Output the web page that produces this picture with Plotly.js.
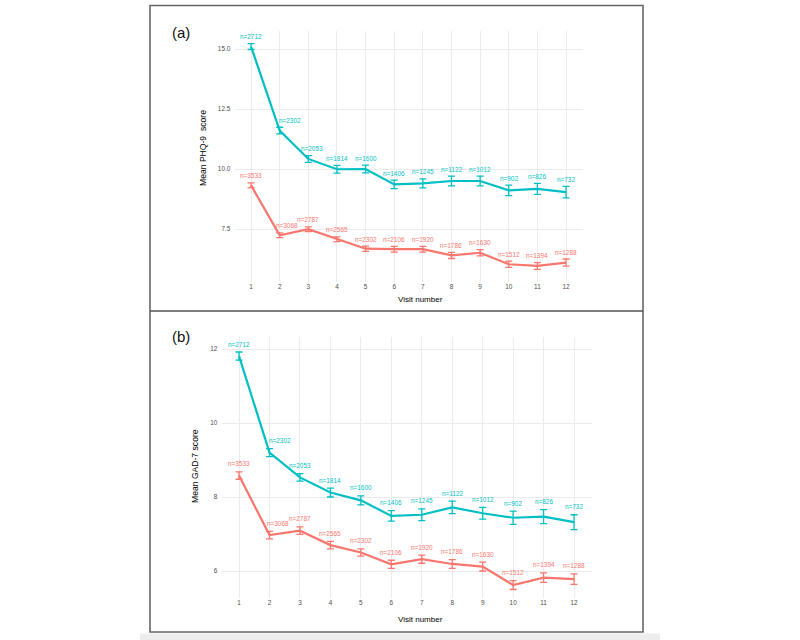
<!DOCTYPE html>
<html>
<head>
<meta charset="utf-8">
<script src="https://cdn.plot.ly/plotly-3.0.1.min.js"></script>
<style>html,body{margin:0;padding:0;background:#fff;}#chart{width:800px;height:640px;}</style>
</head>
<body>
<div id="chart"></div>
<script>
// ---- data ----
const visits = [1,2,3,4,5,6,7,8,9,10,11,12];

const phq_groupA_mean = [15.10,11.60,10.42,9.99,10.00,9.36,9.40,9.50,9.50,9.11,9.17,9.04];
const phq_groupA_err  = [0.12,0.14,0.14,0.16,0.16,0.18,0.19,0.20,0.20,0.22,0.23,0.24];
const phq_groupB_mean = [9.32,7.24,7.49,7.07,6.68,6.66,6.66,6.40,6.51,6.03,5.96,6.10];
const phq_groupB_err  = [0.10,0.10,0.10,0.10,0.11,0.12,0.12,0.13,0.13,0.13,0.14,0.15];

const gad_groupA_mean = [11.81,9.20,8.53,8.12,7.91,7.49,7.52,7.72,7.56,7.44,7.47,7.32];
const gad_groupA_err  = [0.11,0.11,0.10,0.12,0.12,0.14,0.16,0.17,0.16,0.18,0.19,0.20];
const gad_groupB_mean = [8.58,6.97,7.09,6.70,6.50,6.18,6.32,6.19,6.12,5.62,5.82,5.78];
const gad_groupB_err  = [0.10,0.10,0.10,0.10,0.10,0.11,0.11,0.12,0.12,0.12,0.13,0.14];

const groupA_n = ["n=2712","n=2302","n=2053","n=1814","n=1600","n=1406","n=1245","n=1122","n=1012","n=902","n=826","n=732"];
const groupB_n = ["n=3533","n=3068","n=2787","n=2565","n=2302","n=2106","n=1920","n=1786","n=1630","n=1512","n=1394","n=1288"];

const yTicksPHQ = [7.5,10,12.5,15];
const yTickTextPHQ = ["7.5","10.0","12.5","15.0"];
const yTicksGAD = [6,8,10,12];
const yTickTextGAD = ["6","8","10","12"];

// ---- styling ----
const CYAN = "#00BFC4", RED = "#F8766D";
const FONT = "Liberation Sans, Arial, sans-serif";
// label nudges (px) for crowded points
const nudgeTopA = [0,10,4,0,0,0,0,0,0,0,0,0];
const nudgeTopB = [0,7,0,0,0,0,0,0,0,0,0,0];
const nudgeBotA = [0,10,0,0,0,0,0,0,0,0,0,0];
const nudgeBotB = [0,8,0,0,0,0,0,0,0,0,0,0];

function line(y, err, color, xa, ya){
  return {
    x: visits, y: y, type: "scatter", mode: "lines",
    xaxis: xa, yaxis: ya,
    line: {color: color, width: 2.2},
    error_y: {type: "data", array: err, visible: true, color: color, thickness: 1.3, width: 3.5},
    hoverinfo: "skip", showlegend: false
  };
}

const data = [
  line(phq_groupB_mean, phq_groupB_err, RED, "x", "y"),
  line(phq_groupA_mean, phq_groupA_err, CYAN, "x", "y"),
  line(gad_groupB_mean, gad_groupB_err, RED, "x2", "y2"),
  line(gad_groupA_mean, gad_groupA_err, CYAN, "x2", "y2")
];

const ann = [];
function labels(means, errs, texts, color, xr, yr, nudge, ys){
  visits.forEach((v,i)=>{
    ann.push({x: v, y: means[i] + errs[i], xref: xr, yref: yr, text: texts[i],
      showarrow: false, xanchor: "center", yanchor: "middle", xshift: nudge[i], yshift: ys,
      font: {family: FONT, size: 6.4, color: color}});
  });
}
labels(phq_groupA_mean, phq_groupA_err, groupA_n, CYAN, "x", "y", nudgeTopA, 7);
labels(phq_groupB_mean, phq_groupB_err, groupB_n, RED, "x", "y", nudgeTopB, 7);
labels(gad_groupA_mean, gad_groupA_err, groupA_n, CYAN, "x2", "y2", nudgeBotA, 8);
labels(gad_groupB_mean, gad_groupB_err, groupB_n, RED, "x2", "y2", nudgeBotB, 8);

const W = 800, H = 640;
const px = v => v / W, py = v => (H - v) / H;

// panel tags and axis titles
ann.push({xref:"paper", yref:"paper", x: px(181), y: py(32), text: "(a)", showarrow:false,
  xanchor:"center", yanchor:"middle", font:{family:FONT, size:15, color:"#111"}});
ann.push({xref:"paper", yref:"paper", x: px(181), y: py(336), text: "(b)", showarrow:false,
  xanchor:"center", yanchor:"middle", font:{family:FONT, size:15, color:"#111"}});
ann.push({xref:"paper", yref:"paper", x: px(420), y: py(299), text: "Visit number", showarrow:false,
  xanchor:"center", yanchor:"middle", font:{family:FONT, size:8, color:"#000"}});
ann.push({xref:"paper", yref:"paper", x: px(420), y: py(619), text: "Visit number", showarrow:false,
  xanchor:"center", yanchor:"middle", font:{family:FONT, size:8, color:"#000"}});
ann.push({xref:"paper", yref:"paper", x: px(203), y: py(148), text: "Mean PHQ-9  score", showarrow:false,
  textangle: -90, xanchor:"center", yanchor:"middle", font:{family:FONT, size:8.6, color:"#000"}});
ann.push({xref:"paper", yref:"paper", x: px(195), y: py(466), text: "Mean GAD-7 score", showarrow:false,
  textangle: -90, xanchor:"center", yanchor:"middle", font:{family:FONT, size:8.6, color:"#000"}});

const gridC = "#ebebeb";
function xax(domain){
  return {domain: domain, range: [0.45, 12.6], tickmode: "array", tickvals: visits,
    ticktext: visits.map(String), showgrid: true, gridcolor: gridC, gridwidth: 1,
    zeroline: false, showline: false, ticks: "", fixedrange: true,
    tickfont: {family: FONT, size: 6.4, color: "#4d4d4d"}};
}
function yax(domain, range, tv, tt, anchor){
  return {domain: domain, range: range, tickmode: "array", tickvals: tv, ticktext: tt,
    showgrid: true, gridcolor: gridC, gridwidth: 1, zeroline: false, showline: false,
    ticks: "", ticklabelstandoff: 4, anchor: anchor, fixedrange: true,
    tickfont: {family: FONT, size: 6.4, color: "#4d4d4d"}};
}

const layout = {
  width: W, height: H,
  margin: {l:0, r:0, t:0, b:0},
  paper_bgcolor: "#ffffff", plot_bgcolor: "rgba(0,0,0,0)",
  showlegend: false,
  xaxis: Object.assign(xax([px(235.3), px(583.2)]), {anchor: "y"}),
  yaxis: yax([py(281.8), py(31)], [5.3, 15.75], yTicksPHQ, yTickTextPHQ, "x"),
  xaxis2: Object.assign(xax([px(222.3), px(592.3)]), {anchor: "y2"}),
  yaxis2: yax([py(598), py(337.2)], [5.27, 12.32], yTicksGAD, yTickTextGAD, "x2"),
  annotations: ann,
  shapes: [
    {type:"rect", xref:"paper", yref:"paper", x0: px(140), x1: px(660), y0: py(640), y1: py(633.5),
      fillcolor:"#ededed", line:{width:0}, layer:"below"},
    {type:"rect", xref:"paper", yref:"paper", x0: px(150), x1: px(643), y0: py(632), y1: py(5.5),
      fillcolor:"rgba(0,0,0,0)", line:{color:"#666", width:1.6}},
    {type:"line", xref:"paper", yref:"paper", x0: px(150), x1: px(643), y0: py(311), y1: py(311),
      line:{color:"#555", width:1.6}}
  ]
};

Plotly.newPlot("chart", data, layout, {staticPlot: true, displayModeBar: false});
</script>
</body>
</html>
